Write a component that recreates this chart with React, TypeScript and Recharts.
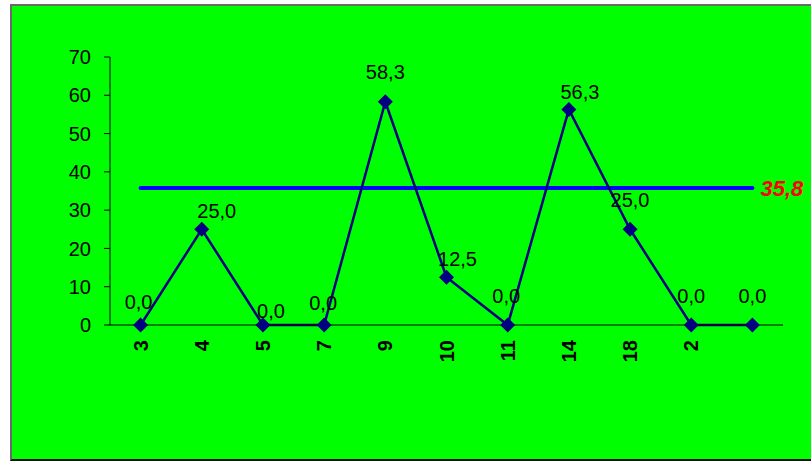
import React from 'react';
import { LineChart, Line, XAxis, YAxis, LabelList } from 'recharts';

const categories: string[] = ['3', '4', '5', '7', '9', '10', '11', '14', '18', '2', ''];
const values: number[] = [0, 25, 0, 0, 58.3, 12.5, 0, 56.3, 25, 0, 0];
const average = 35.8;
const yTicks: number[] = [0, 10, 20, 30, 40, 50, 60, 70];

// label nudges (layout only): [dx, dy] from the point to the label centre
const labelNudge: [number, number][] = [
  [-2, -23], [15, -18], [8, -14.5], [-1, -22], [0, -30], [11, -18],
  [-1.5, -29.5], [11, -17], [0, -29], [0, -29.5], [0, -29.5],
];

const data = categories.map((c, i) => ({ pos: i + 0.5, cat: c, value: values[i], avg: average }));
const boundaryTicks = categories.map((_, i) => i).concat([categories.length]);
const centerTicks = categories.map((_, i) => i + 0.5);

const FONT = '"Liberation Sans", Arial, sans-serif';
const fmt = (v: number) => v.toFixed(1).replace('.', ',');

const Diamond = (props: any) => {
  const { cx, cy } = props;
  if (cx == null || cy == null) return null;
  return (
    <polygon
      points={`${cx - 7.5},${cy} ${cx},${cy - 7.5} ${cx + 7.5},${cy} ${cx},${cy + 7.5}`}
      fill="#000080"
    />
  );
};

const ValueLabel = (props: any) => {
  const { x, y, index, value } = props;
  if (x == null || y == null) return null;
  const [dx, dy] = labelNudge[index] || [0, -22];
  return (
    <text x={x + dx} y={y + dy} textAnchor="middle" dominantBaseline="central" fontSize={20} fontFamily={FONT} fill="#000">
      {fmt(Number(value))}
    </text>
  );
};

const AvgLabel = (props: any) => {
  const { x, y, index, value } = props;
  if (index !== categories.length - 1 || x == null || y == null) return null;
  return (
    <text x={x + 8} y={y + 1} textAnchor="start" dominantBaseline="central" fontSize={22} fontWeight="bold" fontStyle="italic" fontFamily={FONT} fill="#ff0000">
      {fmt(Number(value))}
    </text>
  );
};

const CatTick = (props: any) => {
  const { x, y, payload } = props;
  const idx = Math.round(payload.value - 0.5);
  const label = categories[idx] ?? '';
  return (
    <text transform={`translate(${x},${y + 14}) rotate(-90)`} textAnchor="end" dominantBaseline="central" fontSize={20} fontWeight="bold" fontFamily={FONT} fill="#000">
      {label}
    </text>
  );
};

export default function App() {
  return (
    <div style={{ position: 'fixed', left: 0, top: 0, width: 811, height: 462, background: '#fff', overflow: 'hidden' }}>
      <div
        style={{
          position: 'absolute', left: 10, top: 4, width: 820, height: 457,
          background: '#00ff00', borderLeft: '2px solid #6a6a6a', borderTop: '2px solid #6a6a6a',
          borderBottom: '2px solid #111', boxSizing: 'border-box',
        }}
      />
      <div style={{ position: 'absolute', left: 0, top: 0 }}>
        <LineChart width={811} height={462} data={data} margin={{ top: 57, right: 28, left: 50, bottom: 96 }}>
          <XAxis
            xAxisId="grid" dataKey="pos" type="number" domain={[0, categories.length]} ticks={boundaryTicks}
            interval={0} tick={false} tickSize={6} height={1} axisLine={{ stroke: '#000', strokeWidth: 1 }}
            tickLine={{ stroke: '#000', strokeWidth: 1 }}
          />
          <XAxis
            xAxisId="lab" dataKey="pos" type="number" domain={[0, categories.length]} ticks={centerTicks}
            interval={0} tick={<CatTick />} tickSize={0} tickMargin={0} tickLine={false} axisLine={false} height={40}
          />
          <YAxis
            type="number" domain={[0, 70]} ticks={yTicks} interval={0} width={60} tickSize={6} tickMargin={13}
            axisLine={{ stroke: '#000', strokeWidth: 1 }} tickLine={{ stroke: '#000', strokeWidth: 1 }}
            tick={{ fontSize: 20, fill: '#000', fontFamily: FONT }}
          />
          <Line
            xAxisId="grid" type="linear" dataKey="avg" stroke="#0000ff" strokeWidth={4} strokeLinecap="round"
            dot={false} activeDot={false} isAnimationActive={false}
          >
            <LabelList dataKey="avg" content={<AvgLabel />} />
          </Line>
          <Line
            xAxisId="grid" type="linear" dataKey="value" stroke="#000080" strokeWidth={2.5}
            dot={<Diamond />} activeDot={false} isAnimationActive={false}
          >
            <LabelList dataKey="value" content={<ValueLabel />} />
          </Line>
        </LineChart>
      </div>
    </div>
  );
}
